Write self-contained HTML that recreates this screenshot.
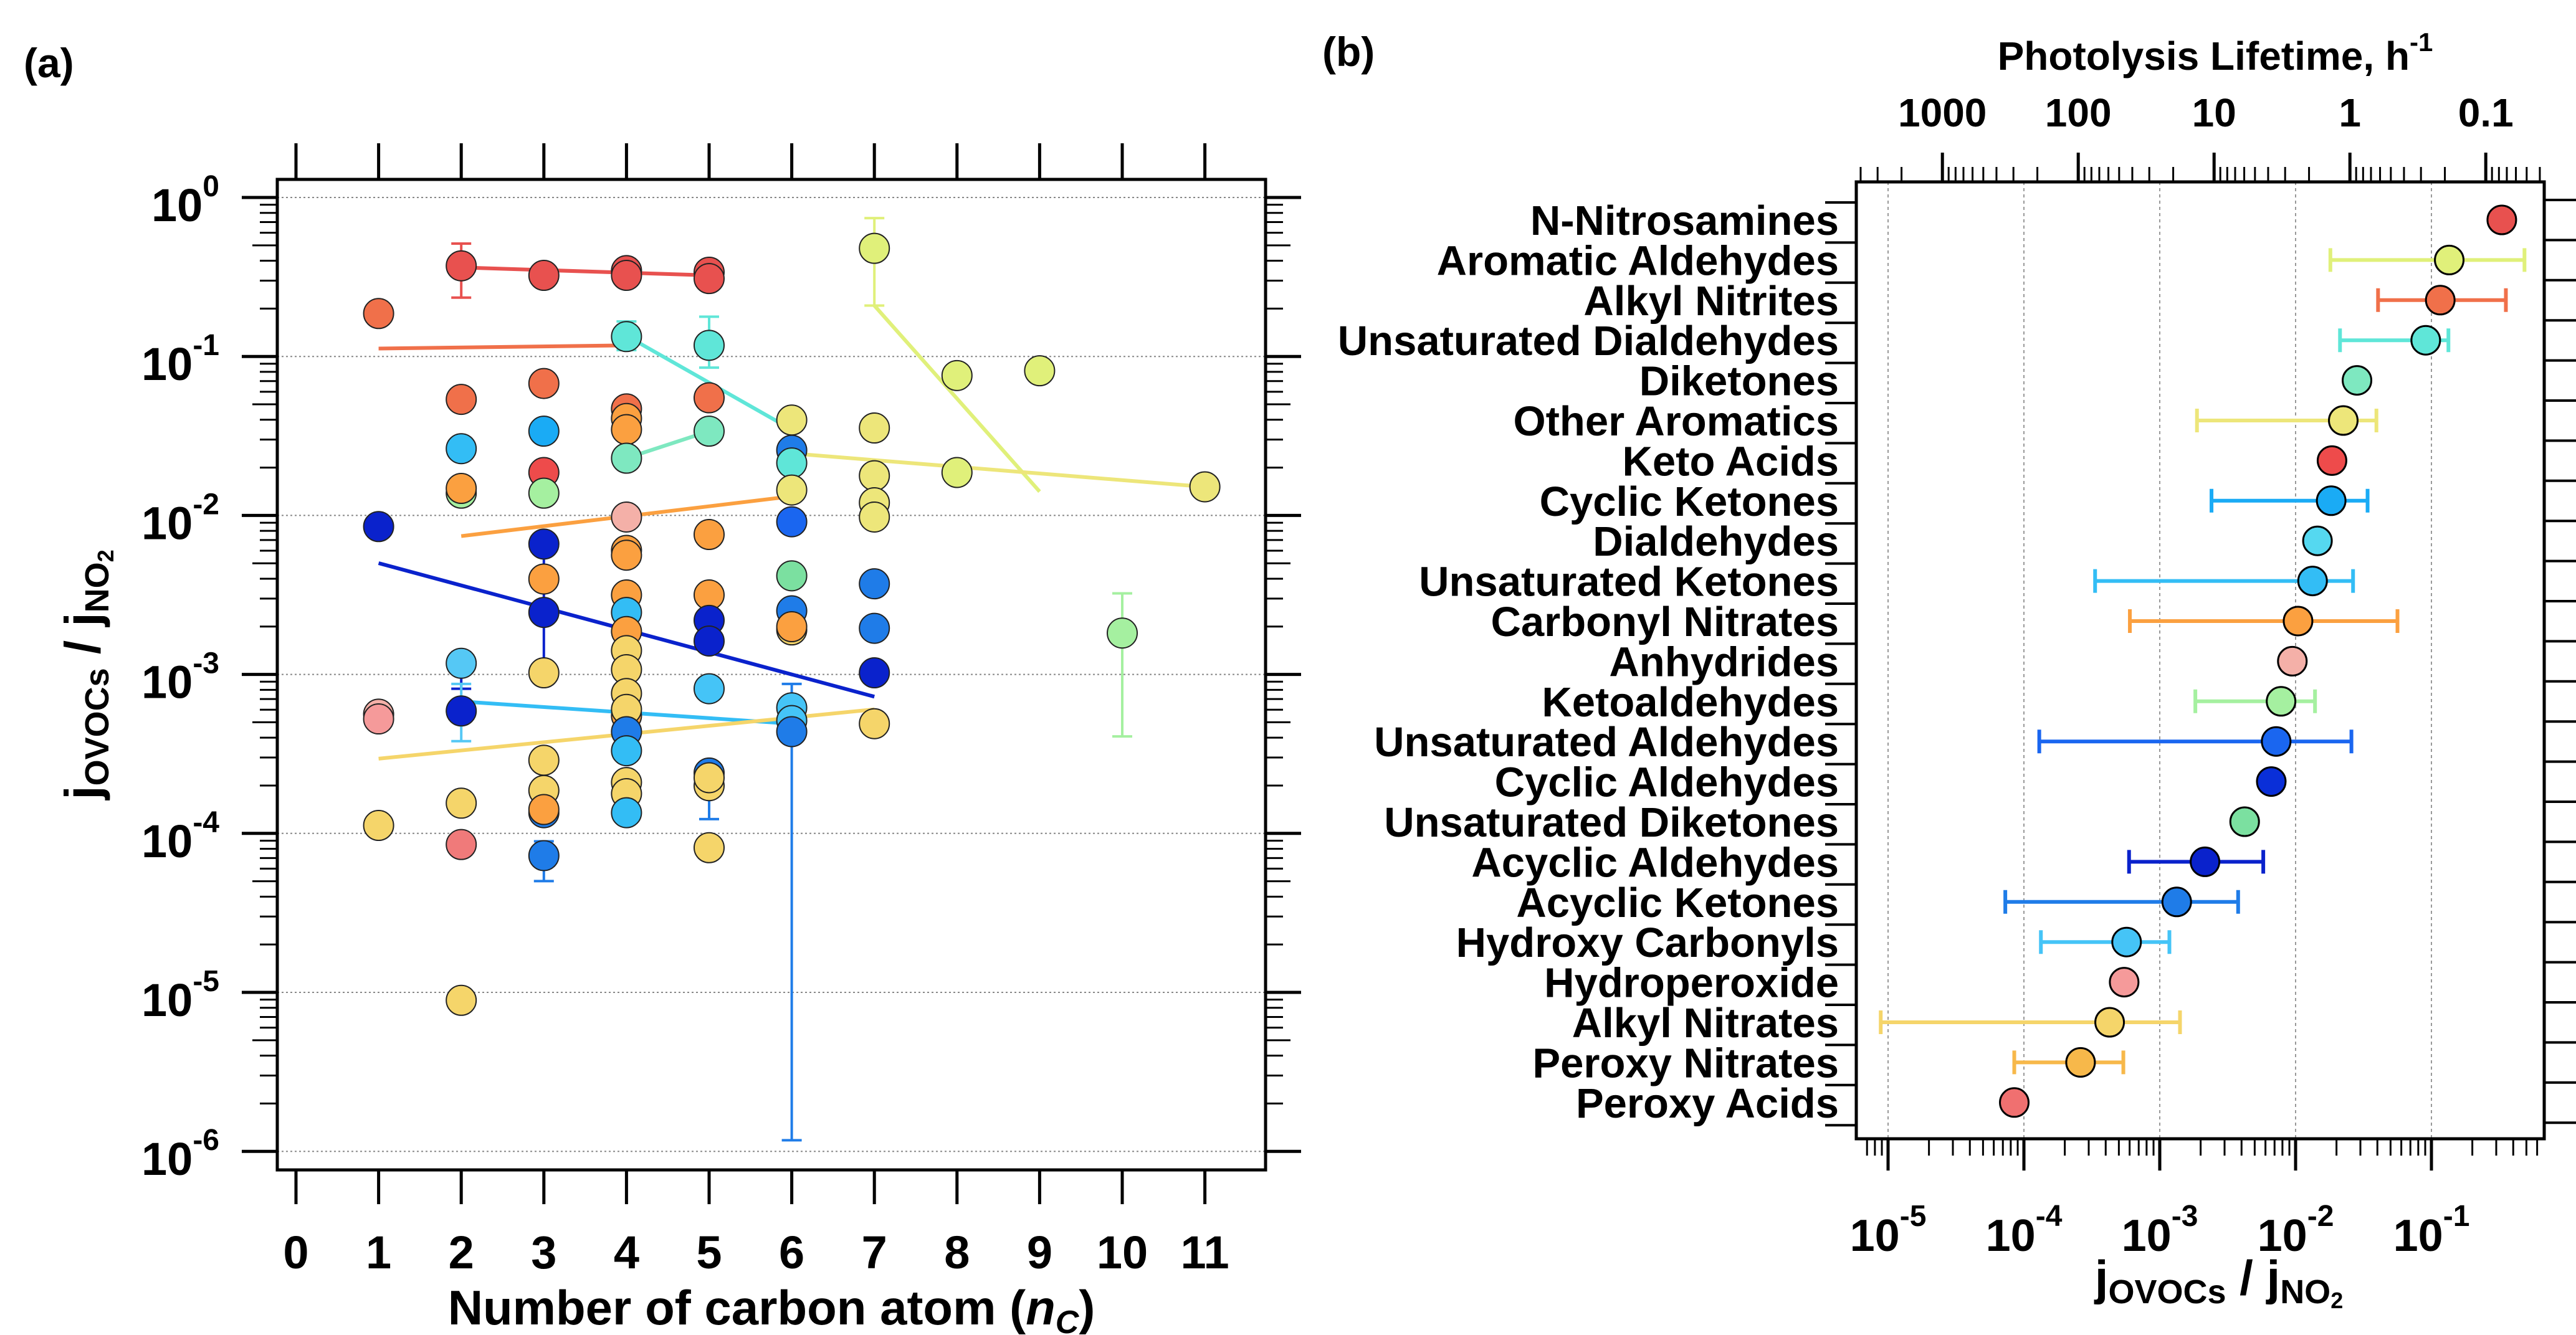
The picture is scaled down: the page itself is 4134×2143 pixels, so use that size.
<!DOCTYPE html>
<html><head><meta charset="utf-8"><style>
html,body{margin:0;padding:0;background:#fff;}
svg{display:block;font-family:"Liberation Sans",Arial,sans-serif;font-weight:bold;}
</style></head><body>
<svg id="c" width="4134" height="2143" viewBox="0 0 4134 2143" xmlns="http://www.w3.org/2000/svg">
<text x="38" y="124" font-size="66">(a)</text>
<text x="2122" y="106" font-size="66">(b)</text>
<g id="pa"></g>
<g id="pb"></g>
</svg>
<script>
// ---------- Panel A data ----------
const aX = [1,1,1,1,1,
 2,2,2,2,2,2,2,2,2,2,
 3,3,3,3,3,3,3,3,3,3,3,3,3,3,
 4,4,4,4,4,4,4,4,4,4,4,4,4,4,4,4,4,4,4,4,4,4,4,
 5,5,5,5,5,5,5,5,5,5,5,5,5,5,
 6,6,6,6,6,6,6,6,6,6,6,6,
 7,7,7,7,7,7,7,7,7,
 8,8,9,10,11];
const aLog = [-0.73,-2.07,-3.25,-3.28,-3.95,
 -0.43,-1.27,-1.58,-1.86,-1.83,-2.93,-3.23,-3.81,-4.07,-5.05,
 -0.49,-1.17,-1.47,-1.73,-1.86,-2.18,-2.40,-2.61,-2.99,-3.54,-3.73,-3.87,-3.85,-4.14,
 -0.46,-0.49,-0.875,-1.33,-1.39,-1.46,-1.64,-2.01,-2.22,-2.25,-2.50,-2.61,-2.73,-2.85,-2.97,-3.12,-3.26,-3.22,-3.36,-3.48,-3.68,-3.75,-3.87,
 -0.47,-0.51,-0.93,-1.26,-1.47,-2.12,-2.50,-2.66,-2.79,-3.09,-3.62,-3.70,-3.65,-4.09,
 -1.40,-1.59,-1.67,-1.84,-2.04,-2.38,-2.60,-2.72,-2.70,-3.21,-3.29,-3.36,
 -0.32,-1.45,-1.75,-1.92,-2.01,-2.43,-2.71,-2.99,-3.31,
 -1.12,-1.73,-1.09,-2.74,-1.82];
const aCol = ["#f0704a","#0a22cc","#f4b0a8","#f59a9a","#f5d56a",
 "#e8514f","#f0704a","#33bdf5","#a5f0a0","#fba040","#55c8f5","#0a22cc","#f5d56a","#f07a7a","#f5d56a",
 "#e8514f","#f0704a","#1aabf5","#ee4b4b","#a5f0a0","#0a22cc","#fba040","#0a22cc","#f5d56a","#f5d56a","#f5d56a","#1f7ce8","#fba040","#1f7ce8",
 "#e8514f","#e8514f","#5fe6d8","#f0704a","#fba040","#fba040","#7ee8c0","#f4b0a8","#fba040","#fba040","#fba040","#33bdf5","#fba040","#f5d56a","#f5d56a","#f5d56a","#fba040","#f5d56a","#1f7ce8","#33bdf5","#f5d56a","#f5d56a","#33bdf5",
 "#e8514f","#e8514f","#5fe6d8","#f0704a","#7ee8c0","#fba040","#fba040","#0a22cc","#0a22cc","#45c4f7","#1f7ce8","#f5d56a","#f5d56a","#f5d56a",
 "#ede67a","#1f7ce8","#5fe6d8","#ede67a","#1a66f0","#7be0a0","#1f7ce8","#f5d56a","#fba040","#45c4f7","#45c4f7","#1f7ce8",
 "#e0f07a","#ede67a","#ede67a","#ede67a","#ede67a","#1f7ce8","#1f7ce8","#0a22cc","#f5d56a",
 "#e0f07a","#e0f07a","#e0f07a","#a5f0a0","#ede67a"];
const aErrX = [2,2,2,3,3,4,5,5,6,7,10];
const aErrLo = [-0.63,-3.09,-3.42,-3.05,-4.30,-0.96,-1.07,-3.91,-5.93,-0.68,-3.39];
const aErrHi = [-0.29,-2.86,-3.06,-2.17,-4.05,-0.78,-0.75,-3.62,-3.06,-0.13,-2.49];
const aErrCol = ["#e8514f","#0a22cc","#55c8f5","#0a22cc","#1f7ce8","#5fe6d8","#5fe6d8","#1f7ce8","#1f7ce8","#e0f07a","#a5f0a0"];
const fitX1 = [2,1,4,4,7,6,2,1,2,1];
const fitY1 = [-0.44,-0.95,-0.87,-1.64,-0.68,-1.61,-2.13,-2.30,-3.17,-3.53];
const fitX2 = [5,4,6,5,9,11,6,7,6,7];
const fitY2 = [-0.49,-0.93,-1.46,-1.47,-1.85,-1.82,-1.88,-3.14,-3.31,-3.22];
const fitCol = ["#e8514f","#f0704a","#5fe6d8","#7ee8c0","#e0f07a","#ede67a","#fba040","#0a22cc","#33bdf5","#f5d56a"];
const aXTicks = [0,1,2,3,4,5,6,7,8,9,10,11];
const aYTicks = [0,-1,-2,-3,-4,-5,-6];

// ---------- Panel B data ----------
const bCats = ["N-Nitrosamines","Aromatic Aldehydes","Alkyl Nitrites","Unsaturated Dialdehydes","Diketones","Other Aromatics","Keto Acids","Cyclic Ketones","Dialdehydes","Unsaturated Ketones","Carbonyl Nitrates","Anhydrides","Ketoaldehydes","Unsaturated Aldehydes","Cyclic Aldehydes","Unsaturated Diketones","Acyclic Aldehydes","Acyclic Ketones","Hydroxy Carbonyls","Hydroperoxide","Alkyl Nitrates","Peroxy Nitrates","Peroxy Acids"];
const bVal = [-0.482,-0.869,-0.935,-1.042,-1.548,-1.649,-1.732,-1.738,-1.839,-1.875,-1.982,-2.024,-2.107,-2.143,-2.179,-2.375,-2.667,-2.875,-3.244,-3.262,-3.369,-3.583,-4.071];
const bLo = [null,-1.744,-1.393,-1.673,null,-2.726,null,-2.619,null,-3.476,-3.220,null,-2.738,-3.887,null,null,-3.226,-4.137,-3.875,null,-5.054,-4.071,null];
const bHi = [null,-0.315,-0.452,-0.875,null,-1.405,null,-1.470,null,-1.577,-1.250,null,-1.857,-1.589,null,null,-2.238,-2.423,-2.929,null,-2.851,-3.268,null];
const bCol = ["#e8514f","#e0f07a","#f0704a","#5fe6d8","#7ee8c0","#ede67a","#ee4b4b","#1aabf5","#55d8f0","#33bdf5","#fba040","#f4b0a8","#a5f0a0","#1a66f0","#0a2fd8","#7be0a0","#0a22cc","#1f7ce8","#45c4f7","#f59a9a","#f5d56a","#f7b84a","#f07070"];
const bXTicks = [-5,-4,-3,-2,-1];
const lifeTicks = [1000,100,10,1,0.1];

const NS="http://www.w3.org/2000/svg";
function mk(parent,tag,attrs,text){const e=document.createElementNS(NS,tag);for(const k in attrs)e.setAttribute(k,attrs[k]);if(text!==undefined)e.textContent=text;parent.appendChild(e);return e;}

// ---------- Panel A ----------
(function(){
const g=document.getElementById('pa');
const L=445,R=2031,T=288,B=1878;
const sx=n=>475+132.6*n;
const sy=l=>317-l*255.2;
for(const t of aYTicks){
  const gl=mk(g,'line',{x1:L,x2:R,y1:sy(t),y2:sy(t),stroke:'#888','stroke-width':2,'stroke-dasharray':'3,4'});
  
  
}
mk(g,'rect',{x:L,y:T,width:R-L,height:B-T,fill:'none',stroke:'#000','stroke-width':5});
for(let d=0;d>=-6;d--){
  for(const side of [0,1]){
    const x0=side?R:L, dir=side?1:-1;
    mk(g,'line',{x1:x0,x2:x0+dir*57,y1:sy(d),y2:sy(d),stroke:'#000','stroke-width':5});
    if(d>-6) for(let m=2;m<=9;m++){const y=sy(d-1+Math.log10(m));const len=(m==5)?40:28;
      mk(g,'line',{x1:x0,x2:x0+dir*len,y1:y,y2:y,stroke:'#000','stroke-width':3});}
  }
  const tl=mk(g,'text',{x:352,y:sy(d)+38,'font-size':74,'text-anchor':'end'});
  
  
  tl.textContent='10';
  mk(tl,'tspan',{dy:-40,'font-size':48},d===0?'0':String(d));
}
for(const t of aXTicks){
  mk(g,'line',{x1:sx(t),x2:sx(t),y1:B,y2:1933,stroke:'#000','stroke-width':5});
  mk(g,'line',{x1:sx(t),x2:sx(t),y1:T,y2:230,stroke:'#000','stroke-width':5});
  const tl=mk(g,'text',{x:sx(t),y:2036,'font-size':74,'text-anchor':'middle'},String(t));
  
  
}
const xt=mk(g,'text',{x:1238,y:2126,'font-size':78,'text-anchor':'middle'});


xt.textContent='Number of carbon atom (';
mk(xt,'tspan',{'font-style':'italic'},'n');
mk(xt,'tspan',{'font-style':'italic','font-size':52,dy:14},'C');
mk(xt,'tspan',{dy:-14},')');
const yt=mk(g,'text',{x:0,y:0,'font-size':80,'text-anchor':'middle',transform:'translate(160,1083) rotate(-90)'});


yt.textContent='j';
mk(yt,'tspan',{'font-size':54,dy:14},'OVOCs');
mk(yt,'tspan',{dy:-14},' / j');
mk(yt,'tspan',{'font-size':54,dy:14},'NO');
mk(yt,'tspan',{'font-size':36,dy:8},'2');
for(let i=0;i<aErrX.length;i++){
  const x=sx(aErrX[i]),y1=sy(aErrLo[i]),y2=sy(aErrHi[i]);
  const eb=mk(g,'g',{stroke:aErrCol[i],'stroke-width':4});
  
  
  mk(eb,'line',{x1:x,x2:x,y1:y1,y2:y2});
  mk(eb,'line',{x1:x-16,x2:x+16,y1:y1,y2:y1});
  mk(eb,'line',{x1:x-16,x2:x+16,y1:y2,y2:y2});
}
for(let i=0;i<fitX1.length;i++){
  const fl=mk(g,'line',{x1:sx(fitX1[i]),x2:sx(fitX2[i]),y1:sy(fitY1[i]),y2:sy(fitY2[i]),stroke:fitCol[i],'stroke-width':6});
  
  
}
for(let i=0;i<aX.length;i++){
  const c=mk(g,'circle',{cx:sx(aX[i]),cy:sy(aLog[i]),r:24,fill:aCol[i],stroke:'#222','stroke-width':2});
  
  
}
})();

// ---------- Panel B ----------
(function(){
const g=document.getElementById('pb');
const L=2979,R=4083,T=292,B=1828;
const sx=l=>3030+(l+5)*218;
const sy=i=>353+i*64.4;
const lifeToLog=v=>-1.60-Math.log10(v);
for(const t of bXTicks){
  const gl=mk(g,'line',{x1:sx(t),x2:sx(t),y1:T,y2:B,stroke:'#999','stroke-width':2,'stroke-dasharray':'5,5'});
  
  
}
mk(g,'rect',{x:L,y:T,width:R-L,height:B-T,fill:'none',stroke:'#000','stroke-width':5});
for(let d=-6;d<=0;d++){
  for(let m=1;m<=9;m++){const l=d+Math.log10(m);const x=sx(l);if(x<L+5||x>R-5)continue;
    const len=m===1?51:27;
    mk(g,'line',{x1:x,x2:x,y1:B,y2:B+len,stroke:'#000','stroke-width':m===1?5:3});}
}
for(const t of bXTicks){
  const tl=mk(g,'text',{x:sx(t),y:2008,'font-size':72,'text-anchor':'middle'});
  
  
  tl.textContent='10';
  mk(tl,'tspan',{dy:-40,'font-size':48},String(t));
}
const xt=mk(g,'text',{x:3561,y:2078,'font-size':78,'text-anchor':'middle'});


xt.textContent='j';
mk(xt,'tspan',{'font-size':54,dy:14},'OVOCs');
mk(xt,'tspan',{dy:-14},' / j');
mk(xt,'tspan',{'font-size':54,dy:14},'NO');
mk(xt,'tspan',{'font-size':36,dy:8},'2');
for(let d=-2;d<=4;d++){
  for(let m=1;m<=9;m++){const v=m*Math.pow(10,d);const x=sx(lifeToLog(v));if(x<L+5||x>R-5)continue;
    const len=m===1?47:24;
    mk(g,'line',{x1:x,x2:x,y1:T,y2:T-len,stroke:'#000','stroke-width':m===1?5:3});}
}
for(const v of lifeTicks){
  const tl=mk(g,'text',{x:sx(lifeToLog(v)),y:203,'font-size':64,'text-anchor':'middle'},String(v));
  
  
}
const tt=mk(g,'text',{x:3555,y:112,'font-size':64,'text-anchor':'middle'});


tt.textContent='Photolysis Lifetime, h';
mk(tt,'tspan',{dy:-30,'font-size':42},'-1');
for(let i=0;i<=bCats.length;i++){
  const y=sy(i)-32;
  mk(g,'line',{x1:L,x2:L-50,y1:y+4,y2:y+4,stroke:'#000','stroke-width':4});
  mk(g,'line',{x1:R,x2:4134,y1:y,y2:y,stroke:'#000','stroke-width':4});
}
for(let i=0;i<bCats.length;i++){
  const tl=mk(g,'text',{x:2951,y:sy(i)+24,'font-size':67,'text-anchor':'end'},bCats[i]);
  
  
}
for(let i=0;i<bCats.length;i++){
  const y=sy(i);
  if(bLo[i]!==null){
    const eb=mk(g,'g',{stroke:bCol[i],'stroke-width':6});
    
    
    const x1=sx(bLo[i]),x2=sx(bHi[i]);
    mk(eb,'line',{x1:x1,x2:x2,y1:y,y2:y});
    mk(eb,'line',{x1:x1,x2:x1,y1:y-19,y2:y+19});
    mk(eb,'line',{x1:x2,x2:x2,y1:y-19,y2:y+19});
  }
  const c=mk(g,'circle',{cx:sx(bVal[i]),cy:y,r:23,fill:bCol[i],stroke:'#000','stroke-width':3});
  
  
}
})();
</script>
</body></html>
